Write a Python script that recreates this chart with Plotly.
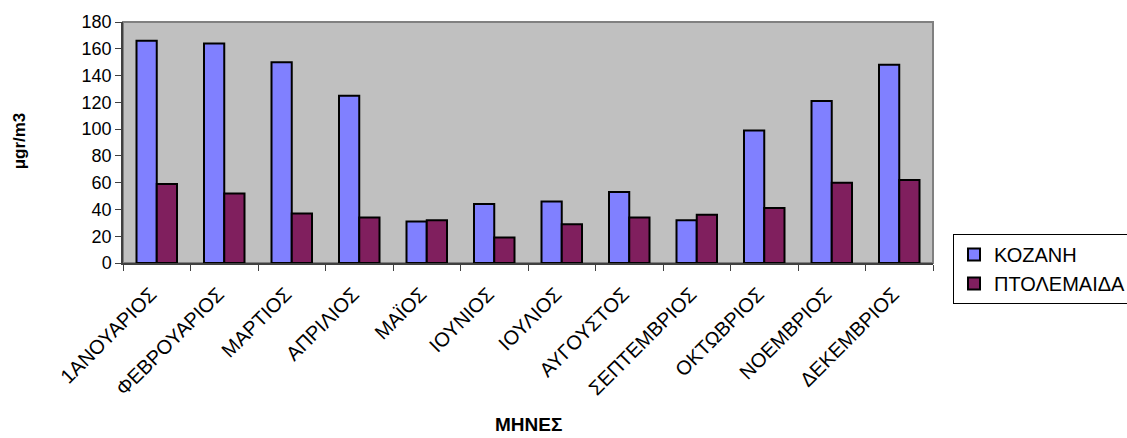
import plotly.graph_objects as go

months = ["1ΑΝΟΥΑΡΙΟΣ", "ΦΕΒΡΟΥΑΡΙΟΣ", "ΜΑΡΤΙΟΣ", "ΑΠΡΙΛΙΟΣ", "ΜΑΪΟΣ", "ΙΟΥΝΙΟΣ",
          "ΙΟΥΛΙΟΣ", "ΑΥΓΟΥΣΤΟΣ", "ΣΕΠΤΕΜΒΡΙΟΣ", "ΟΚΤΩΒΡΙΟΣ", "ΝΟΕΜΒΡΙΟΣ", "ΔΕΚΕΜΒΡΙΟΣ"]
kozani = [166, 164, 150, 125, 31, 44, 46, 53, 32, 99, 121, 148]
ptolemaida = [59, 52, 37, 34, 32, 19, 29, 34, 36, 41, 60, 62]
y_ticks = [0, 20, 40, 60, 80, 100, 120, 140, 160, 180]

FONT = "Liberation Sans, Arial, sans-serif"

fig = go.Figure()
fig.add_trace(go.Bar(x=months, y=kozani, name="ΚΟΖΑΝΗ",
                     marker=dict(color="#8080FF", line=dict(color="black", width=2))))
fig.add_trace(go.Bar(x=months, y=ptolemaida, name="ΠΤΟΛΕΜΑΙΔΑ",
                     marker=dict(color="#801F5E", line=dict(color="black", width=2))))

fig.update_layout(
    width=1127, height=438,
    margin=dict(l=123, r=194, t=22, b=175, autoexpand=False),
    barmode="group", bargap=0.4, bargroupgap=0,
    plot_bgcolor="#C0C0C0", paper_bgcolor="white",
    font=dict(family=FONT, color="black", size=18),
    showlegend=True,
    legend=dict(x=1.0247, y=0.12, xanchor="left", yanchor="top",
                bordercolor="black", borderwidth=1, bgcolor="white",
                font=dict(size=20), itemwidth=30, tracegroupgap=0),
    xaxis=dict(
        tickangle=-45, tickson="boundaries", ticks="outside", ticklen=6,
        tickcolor="#404040", showline=True, linecolor="#404040", linewidth=1.5,
        mirror=False, tickfont=dict(size=20), automargin=False,
        ticklabelstandoff=10, ticklabelshift=-6,
    ),
    yaxis=dict(
        range=[0, 180], tickvals=y_ticks, ticks="outside", ticklen=6,
        tickcolor="#404040", showline=True, linecolor="#404040", linewidth=1.5,
        showgrid=False, zeroline=False, tickfont=dict(size=18), automargin=False,
    ),
    annotations=[
        dict(text="<b>ΜΗΝΕΣ</b>", xref="paper", yref="paper", x=0.5, y=-0.67,
             xanchor="center", yanchor="middle", showarrow=False, font=dict(size=19)),
        dict(text="<b>μgr/m3</b>", xref="paper", yref="paper", x=-0.128, y=0.506,
             xanchor="center", yanchor="middle", showarrow=False, textangle=-90,
             font=dict(size=17)),
    ],
)

# grey frame on top and right of the plot area
fig.add_shape(type="rect", xref="paper", yref="paper", x0=0, y0=0, x1=1, y1=1,
              line=dict(color="#808080", width=2), fillcolor="rgba(0,0,0,0)", layer="below")

fig.write_html("out.html")
